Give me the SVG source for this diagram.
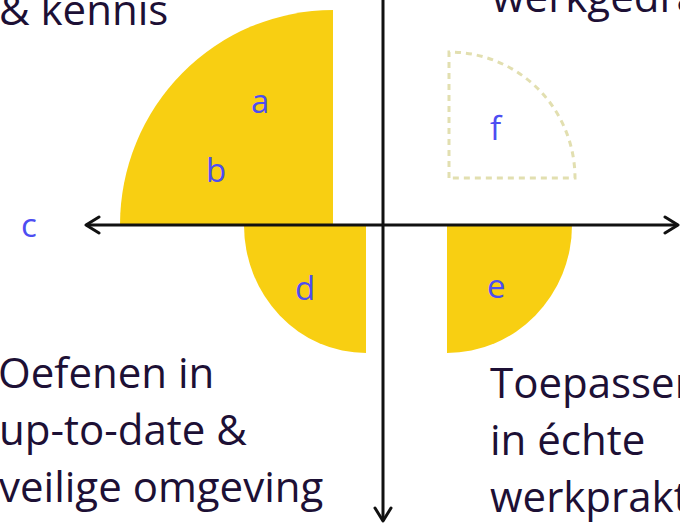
<svg xmlns="http://www.w3.org/2000/svg" width="680" height="526" viewBox="0 0 680 526">
<defs>
<style>
.q{fill:#f8cf12}
.lbl{font-family:"Open Sans","Liberation Sans",sans-serif;font-size:33px;fill:#4d4df2}
.txt{font-family:"Open Sans","Liberation Sans",sans-serif;font-size:42px;fill:#1d1035}
.ax{stroke:#111;stroke-width:3;fill:none}
</style>
<marker id="ah" viewBox="0 0 20 20" refX="17" refY="10" markerWidth="20" markerHeight="20" markerUnits="userSpaceOnUse" orient="auto">
<path d="M4,2 L17,10 L4,18" fill="none" stroke="#111" stroke-width="3" stroke-linecap="round" stroke-linejoin="round"/>
</marker>
</defs>
<rect width="680" height="526" fill="#fff"/>
<g id="shape-a-b">
<path class="q" d="M333,225 L120,225 A213,215 0 0 1 333,10 Z"/>
</g>
<g id="shape-d">
<path class="q" d="M366,225 L244,225 A122,128 0 0 0 366,353 Z"/>
</g>
<g id="shape-e">
<path class="q" d="M447,225 L572,225 A125,128 0 0 1 447,353 Z"/>
</g>
<g id="shape-f">
<path d="M449,178 L449,52 A126,126 0 0 1 575,178 Z" fill="none" stroke="#e2dfb0" stroke-width="3" stroke-dasharray="6,5"/>
</g>
<g id="connectors">
<line class="ax" x1="383" y1="0" x2="383" y2="521" marker-end="url(#ah)"/>
<line class="ax" x1="383" y1="225" x2="86" y2="225" marker-end="url(#ah)"/>
<line class="ax" x1="383" y1="225" x2="678" y2="225" marker-end="url(#ah)"/>
</g>
<g id="labels">
<text class="lbl" x="251" y="113">a</text>
<text class="lbl" x="206" y="182">b</text>
<text class="lbl" x="21" y="237">c</text>
<text class="lbl" x="295" y="300">d</text>
<text class="lbl" x="487" y="298">e</text>
<text class="lbl" x="490" y="140">f</text>
</g>
<g id="text-top-left">
<text class="txt" x="-1" y="25">&amp; kennis</text>
</g>
<g id="text-top-right">
<text class="txt" x="492" y="12">werkgedrag</text>
</g>
<g id="text-bottom-left">
<text class="txt" x="-2" y="388">Oefenen in</text>
<text class="txt" x="-1" y="445">up-to-date &amp;</text>
<text class="txt" x="-1" y="502">veilige omgeving</text>
</g>
<g id="text-bottom-right">
<text class="txt" x="490" y="398">Toepassen</text>
<text class="txt" x="490" y="455">in échte</text>
<text class="txt" x="490" y="512">werkpraktijk</text>
</g>
</svg>
